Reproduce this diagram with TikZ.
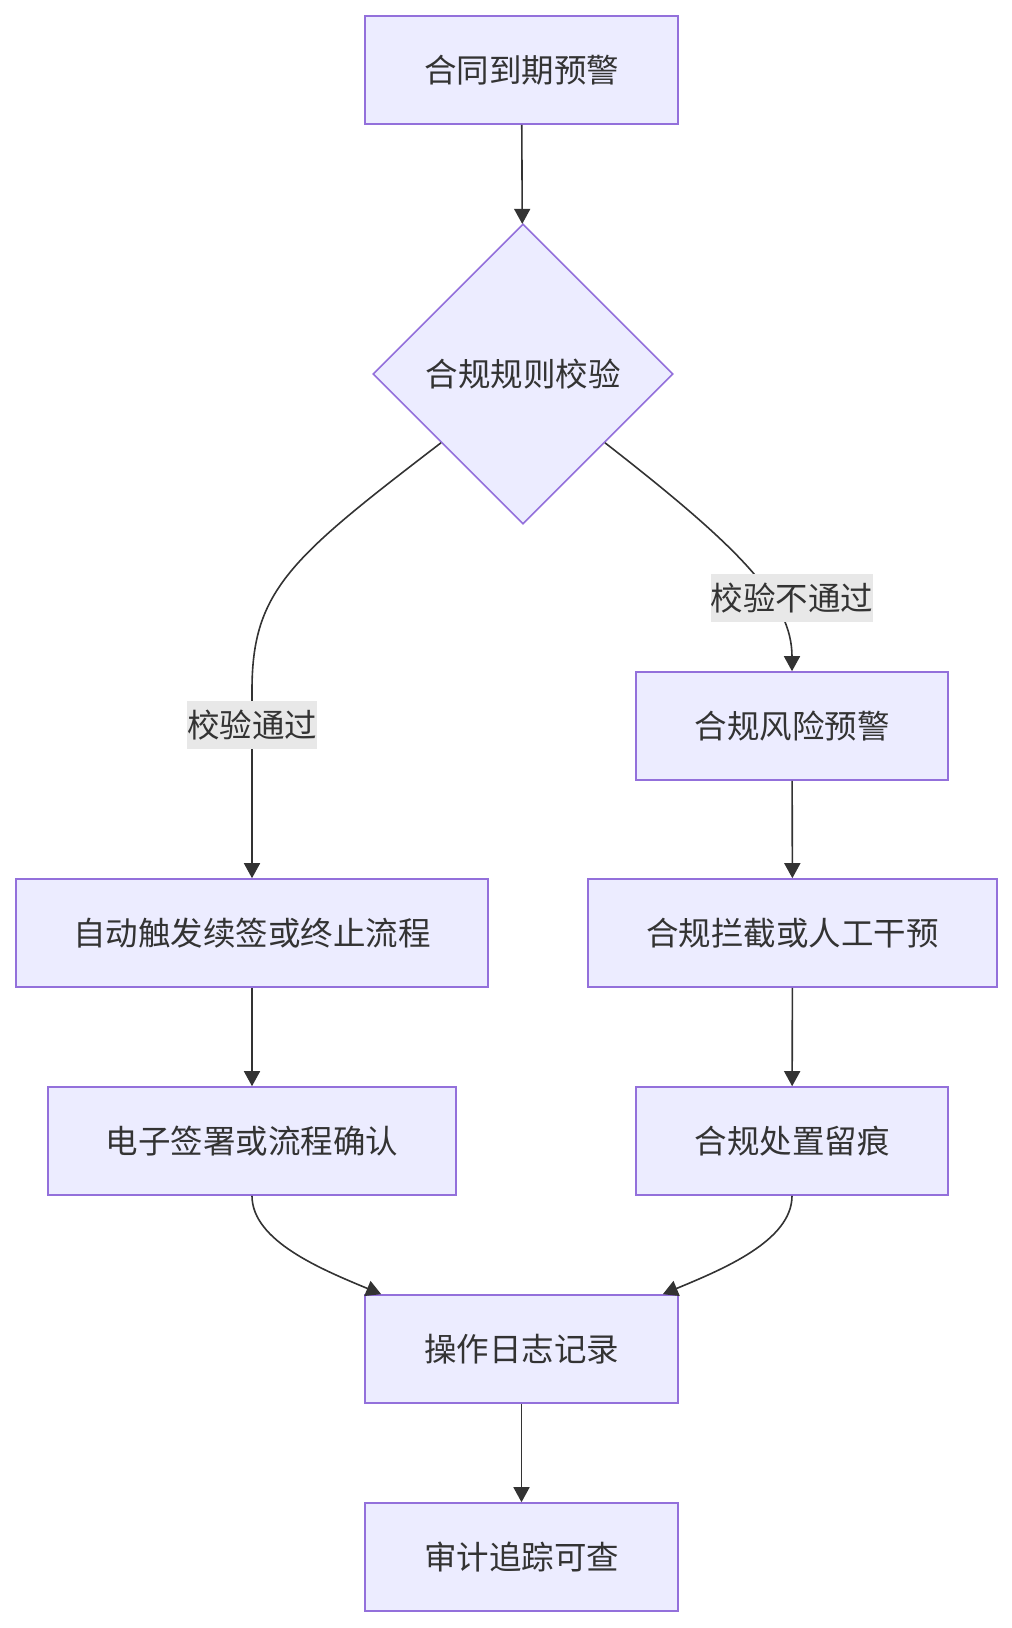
\documentclass[tikz,border=0pt]{standalone}
\usepackage{fontspec}
\setmainfont{Noto Sans CJK SC}
\usetikzlibrary{shapes.geometric, arrows.meta}
\definecolor{boxfill}{HTML}{ECECFF}
\definecolor{boxline}{HTML}{9370DB}
\definecolor{ink}{HTML}{333333}
\definecolor{lblfill}{HTML}{E8E8E8}
\begin{document}
\begin{tikzpicture}[x = 1pt, y = -1pt,
  every node/.style = {font = \fontsize{32.5}{38}\selectfont, text = ink},
  box/.style = {draw = boxline, fill = boxfill, line width = 1.6pt, minimum height = 108pt, inner sep = 0pt},
  lbl/.style = {fill = lblfill, inner xsep = 0pt, inner ysep = 0pt, minimum height = 48pt},
  arr/.style = {-{Triangle[length = 15pt, width = 16pt]}, draw = ink, line width = 1.6pt}]
\useasboundingbox (0,0) rectangle (1012,1628);

\node at (521.5,70) [box, minimum width = 313pt] (W) {合同到期预警};
\node at (523,374) [box, diamond, minimum width = 300pt, minimum height = 300pt] (C) {合规规则校验};
\node at (792,726) [box, minimum width = 312pt] (R) {合规风险预警};
\node at (252,933) [box, minimum width = 472pt] (P) {自动触发续签或终止流程};
\node at (792.5,933) [box, minimum width = 409pt] (I) {合规拦截或人工干预};
\node at (252,1141) [box, minimum width = 408pt] (S) {电子签署或流程确认};
\node at (792,1141) [box, minimum width = 312pt] (T) {合规处置留痕};
\node at (521.5,1349) [box, minimum width = 313pt] (L) {操作日志记录};
\node at (521.5,1557) [box, minimum width = 313pt] (A) {审计追踪可查};

\draw[arr] (W) -- (C);
\draw[arr] (C.-140) .. controls +(-150,115) and +(0,-100) .. (P.north |- 0,690) -- (P.north);
\draw[arr] (C.-40) .. controls +(135,105) and +(0,-70) .. (R.north);
\node at (252,725) [lbl] (Y) {校验通过};
\node at (792,598) [lbl] (N) {校验不通过};

\draw[arr] (R) -- (I);
\draw[arr] (P) -- (S);
\draw[arr] (I) -- (T);
\draw[arr] (S.south) .. controls +(0,45) and +(-60,-25) .. ([xshift = 17pt] L.north west);
\draw[arr] (T.south) .. controls +(0,45) and +(60,-25) .. ([xshift = -16pt] L.north east);
\draw[arr] (L) -- (A);
\end{tikzpicture}
\end{document}
